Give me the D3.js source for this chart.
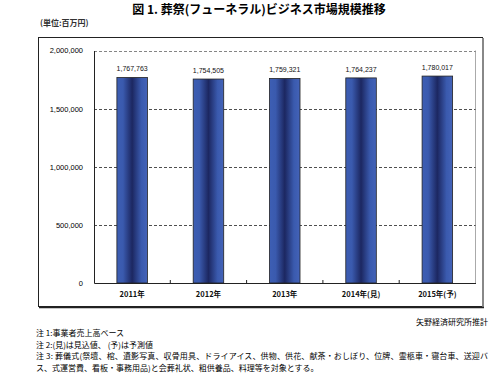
<!DOCTYPE html>
<html><head><meta charset="utf-8">
<script src="https://cdn.jsdelivr.net/npm/d3@7"></script>
<style>body{margin:0;background:#fff}svg{display:block}</style>
</head><body>
<script>
const categories = ["2011年","2012年","2013年","2014年(見)","2015年(予)"];
const values = [1767763,1754505,1759321,1764237,1780017];
const yTicks = [0,500000,1000000,1500000,2000000];
const title = "図 1. 葬祭(フューネラル)ビジネス市場規模推移";
const unit = "(単位:百万円)";
const source = "矢野経済研究所推計";
const notes = [
  "注 1:事業者売上高ベース",
  "注 2:(見)は見込値、 (予)は予測値",
  "注  3:  葬儀式(祭壇、棺、遺影写真、収骨用具、ドライアイス、供物、供花、献茶・おしぼり、位牌、霊柩車・寝台車、送迎バ",
  "ス、式運営費、看板・事務用品)と会葬礼状、粗供養品、料理等を対象とする。"
];

const W=504,H=375;
const svg=d3.select("body").append("svg").attr("width",W).attr("height",H);
const jp='"Noto Sans CJK JP", sans-serif';
const latin='"Liberation Sans", Arial, sans-serif';

// title
svg.append("text").attr("x",259).attr("y",14).attr("text-anchor","middle")
  .attr("font-family",jp).attr("font-weight","bold").attr("font-size",12).text(title);
svg.append("text").attr("x",40).attr("y",26).attr("font-family",jp).attr("font-size",8).attr("font-weight","bold").attr("fill","#333").text(unit);

// outer box
svg.append("rect").attr("x",38.5).attr("y",37.5).attr("width",444).attr("height",269).attr("fill","none").attr("stroke","#222").attr("stroke-width",1);
svg.append("line").attr("x1",483).attr("x2",483).attr("y1",38).attr("y2",308).attr("stroke","#888").attr("stroke-width",2);
svg.append("line").attr("x1",39).attr("x2",484).attr("y1",307.5).attr("y2",307.5).attr("stroke","#222").attr("stroke-width",1.5);

const L=94,R=475.5,T=50.5,B=283;
const x=d3.scaleBand().domain(categories).range([L,R]).paddingInner(0.6).paddingOuter(0.3);
const xb=d3.scaleBand().domain(categories).range([L,R]);
const y=d3.scaleLinear().domain([0,2000000]).range([B,T]);

// gradient
const defs=svg.append("defs");
const g=defs.append("linearGradient").attr("id","bg").attr("x1","0").attr("x2","1").attr("y1","0").attr("y2","0");
[[0,"#3d5eb4"],[0.2,"#3a5aae"],[0.5,"#1c2761"],[0.8,"#3a5aae"],[1,"#4463b8"]].forEach(s=>g.append("stop").attr("offset",s[0]).attr("stop-color",s[1]));

// plot frame
svg.append("line").attr("x1",R).attr("x2",R).attr("y1",T).attr("y2",B).attr("stroke","#aaa");
// grid
yTicks.filter(d=>d>0).forEach(d=>{
  svg.append("line").attr("x1",L).attr("x2",R).attr("y1",Math.round(y(d))+0.5).attr("y2",Math.round(y(d))+0.5)
    .attr("stroke",d===2000000?"#666":"#222").attr("stroke-dasharray","3,2").attr("stroke-width",0.8);
});

// bars
svg.selectAll("rect.bar").data(values).join("rect").attr("class","bar")
  .attr("x",(d,i)=>x(categories[i])).attr("width",x.bandwidth())
  .attr("y",d=>y(d)).attr("height",d=>B-y(d))
  .attr("fill","url(#bg)").attr("stroke","#222").attr("stroke-width",0.8);

svg.selectAll("text.val").data(values).join("text").attr("class","val")
  .attr("x",(d,i)=>x(categories[i])+x.bandwidth()/2).attr("y",d=>y(d)-6)
  .attr("text-anchor","middle").attr("font-family",latin).attr("font-size",7).attr("fill","#111")
  .text(d=>d3.format(",")(d));

// y axis
const ya=svg.append("g").attr("transform",`translate(${L},0)`).call(d3.axisLeft(y).tickValues(yTicks).tickSize(0).tickPadding(11).tickFormat(d3.format(",")));
ya.select(".domain").attr("stroke","#222");
ya.selectAll("text").attr("font-family",latin).attr("font-size",7.5).attr("fill","#000");

// x axis
const xa=svg.append("g").attr("transform",`translate(0,${B})`).call(d3.axisBottom(xb).tickSize(0).tickPadding(9));
xa.select(".domain").attr("stroke","#222").attr("stroke-width",1.2);
xa.selectAll("text").attr("font-family",jp).attr("font-weight","bold").attr("font-size",7.5).attr("fill","#111");
// small category tick marks
svg.selectAll("line.ct").data(categories.slice(1)).join("line").attr("class","ct")
  .attr("x1",d=>xb(d)).attr("x2",d=>xb(d)).attr("y1",B).attr("y2",B-3).attr("stroke","#222");

// source & notes
svg.append("text").attr("x",488).attr("y",325).attr("text-anchor","end").attr("font-family",jp).attr("font-size",8).text(source);
notes.forEach((n,i)=>svg.append("text").attr("x",36).attr("y",336+i*11.5).attr("font-family",jp).attr("font-size",8).attr("textLength",i===2?452:null).text(n));
</script>
</body></html>
